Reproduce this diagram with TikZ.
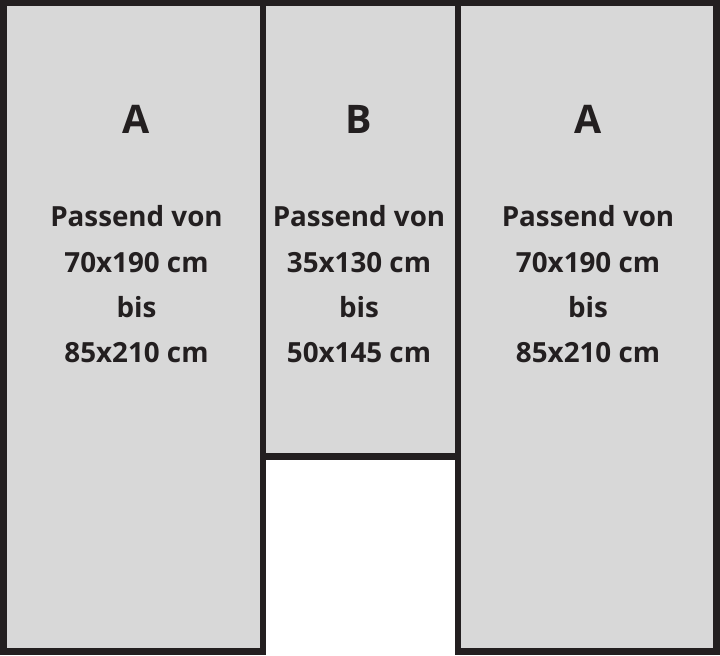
\documentclass[tikz,border=0pt]{standalone}
\usepackage{fontspec}
\setmainfont{Open Sans}
\usepackage{tikz}
\usepackage{tkz-euclide}
\definecolor{frame}{HTML}{231F20}
\definecolor{panel}{HTML}{D8D8D8}
\tikzset{
    wall/.style={line width=1.85pt,color=frame,line join=miter,fill=panel},
    size/.style={anchor=base,text=frame,font=\bfseries\fontsize{7.9}{9}\selectfont},
    letter/.style={anchor=base,text=frame,font=\bfseries\fontsize{11.2}{13}\selectfont}
}
\begin{document}
\begin{tikzpicture}
                \useasboundingbox (0,0) rectangle (7.2,6.55);

                \tkzDefPoint(0.035,0.035){L1}
                \tkzDefPoint(2.63,0.035){L2}
                \tkzDefPoint(2.63,6.52){L3}
                \tkzDefPoint(0.035,6.52){L4}

                \tkzDefPoint(2.63,1.985){M1}
                \tkzDefPoint(4.58,1.985){M2}
                \tkzDefPoint(4.58,6.52){M3}
                \tkzDefPoint(2.63,6.52){M4}

                \tkzDefPoint(4.58,0.035){R1}
                \tkzDefPoint(7.165,0.035){R2}
                \tkzDefPoint(7.165,6.52){R3}
                \tkzDefPoint(4.58,6.52){R4}

                \tkzDrawPolygon[wall](L1,L2,L3,L4)
                \tkzDrawPolygon[wall](M1,M2,M3,M4)
                \tkzDrawPolygon[wall](R1,R2,R3,R4)

                % text of the left door
                \node[letter] (la) at (1.365,5.21) {A};
                \node[size] (l1) at (1.365,4.29) {Passend von};
                \node[size] (l2) at (1.365,3.83) {70x190 cm};
                \node[size] (l3) at (1.365,3.38) {bis};
                \node[size] (l4) at (1.365,2.93) {85x210 cm};

                % text of the middle door
                \node[letter] (mb) at (3.59,5.21) {B};
                \node[size] (m1) at (3.59,4.29) {Passend von};
                \node[size] (m2) at (3.59,3.83) {35x130 cm};
                \node[size] (m3) at (3.59,3.38) {bis};
                \node[size] (m4) at (3.59,2.93) {50x145 cm};

                % text of the right door
                \node[letter] (ra) at (5.88,5.21) {A};
                \node[size] (r1) at (5.88,4.29) {Passend von};
                \node[size] (r2) at (5.88,3.83) {70x190 cm};
                \node[size] (r3) at (5.88,3.38) {bis};
                \node[size] (r4) at (5.88,2.93) {85x210 cm};
            \end{tikzpicture}
\end{document}
